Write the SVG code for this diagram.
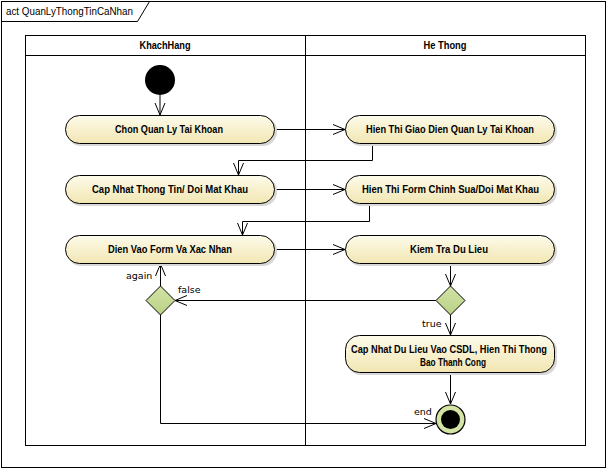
<svg xmlns="http://www.w3.org/2000/svg" width="610" height="470" viewBox="0 0 610 470">
<defs>
<linearGradient id="ng" x1="0" y1="0" x2="0" y2="1">
<stop offset="0" stop-color="#fdfbea"/>
<stop offset="1" stop-color="#f1e6b2"/>
</linearGradient>
<linearGradient id="dg" x1="0" y1="0" x2="0" y2="1">
<stop offset="0" stop-color="#d3e3a8"/>
<stop offset="1" stop-color="#b9d184"/>
</linearGradient>
<marker id="arr" viewBox="0 0 12 12" refX="12" refY="6" markerWidth="12" markerHeight="12" markerUnits="userSpaceOnUse" orient="auto">
<path d="M0,1 L12,6 L0,11" fill="none" stroke="#000" stroke-width="1"/>
</marker>
</defs>
<style>
.lane{fill:none;stroke:#000;stroke-width:1}
.node{fill:url(#ng);stroke:#000;stroke-width:1}
.shadow{fill:#d8d8d8;stroke:none}
.t{font-family:"Liberation Sans",Arial,sans-serif;font-size:10px;font-weight:bold;fill:#000;text-anchor:middle}
.lbl{font-family:"DejaVu Sans","Liberation Sans",sans-serif;font-size:9.5px;fill:#000}
.hdr{font-family:"Liberation Sans",Arial,sans-serif;font-size:10px;font-weight:bold;fill:#000;text-anchor:middle}
.c{fill:none;stroke:#000;stroke-width:1}
.dia{fill:url(#dg);stroke:#000;stroke-width:1}
</style>
<rect x="0" y="0" width="610" height="470" fill="#fff"/>
<g id="frame">
<rect x="1.5" y="1.5" width="604" height="466" fill="none" stroke="#000"/>
<path d="M1.5,21.5 H137.5 L149.5,1.5" fill="none" stroke="#000"/>
<text x="6" y="15" font-family="Liberation Sans,Arial,sans-serif" font-size="10.5px" fill="#000" textLength="127" lengthAdjust="spacingAndGlyphs">act QuanLyThongTinCaNhan</text>
</g>
<g id="lanes">
<rect class="lane" x="25.5" y="35.5" width="280" height="410"/>
<rect class="lane" x="305.5" y="35.5" width="280" height="410"/>
<line x1="25.5" y1="55.5" x2="585.5" y2="55.5" stroke="#000"/>
<text class="hdr" x="165" y="49" textLength="51" lengthAdjust="spacingAndGlyphs">KhachHang</text>
<text class="hdr" x="445" y="49" textLength="43" lengthAdjust="spacingAndGlyphs">He Thong</text>
</g>
<g id="connectors">
<line class="c" x1="160" y1="95" x2="160" y2="115" marker-end="url(#arr)"/>
<line class="c" x1="275" y1="129.5" x2="345" y2="129.5" marker-end="url(#arr)"/>
<path class="c" d="M372.5,144 V160.5 H238.5 V175" marker-end="url(#arr)"/>
<line class="c" x1="275" y1="189.5" x2="345" y2="189.5" marker-end="url(#arr)"/>
<path class="c" d="M369.5,204 V221.5 H242.5 V235" marker-end="url(#arr)"/>
<line class="c" x1="275" y1="249.5" x2="345" y2="249.5" marker-end="url(#arr)"/>
<line class="c" x1="450.5" y1="264" x2="450.5" y2="286" marker-end="url(#arr)"/>
<line class="c" x1="436" y1="300.5" x2="175" y2="300.5" marker-end="url(#arr)"/>
<line class="c" x1="160.5" y1="286" x2="160.5" y2="264" marker-end="url(#arr)"/>
<path class="c" d="M160.5,315 V423.5 H436" marker-end="url(#arr)"/>
<line class="c" x1="450.5" y1="315" x2="450.5" y2="335" marker-end="url(#arr)"/>
<line class="c" x1="450.5" y1="373" x2="450.5" y2="404" marker-end="url(#arr)"/>
<text class="lbl" x="178" y="293">false</text>
<text class="lbl" x="126" y="279">again</text>
<text class="lbl" x="422" y="327">true</text>
<text class="lbl" x="414" y="415">end</text>
</g>
<g id="start"><circle cx="160" cy="80" r="15" fill="#000"/></g>
<g id="n1">
<rect class="shadow" x="67" y="117" width="210" height="29" rx="14"/>
<rect class="node" x="65.5" y="115.5" width="209" height="28" rx="14"/>
<text class="t" x="169" y="133" textLength="108" lengthAdjust="spacingAndGlyphs">Chon Quan Ly Tai Khoan</text>
</g>
<g id="n2">
<rect class="shadow" x="347" y="117" width="210" height="29" rx="14"/>
<rect class="node" x="345.5" y="115.5" width="209" height="28" rx="14"/>
<text class="t" x="450" y="133" textLength="168" lengthAdjust="spacingAndGlyphs">Hien Thi Giao Dien Quan Ly Tai Khoan</text>
</g>
<g id="n3">
<rect class="shadow" x="67" y="177" width="210" height="29" rx="14"/>
<rect class="node" x="65.5" y="175.5" width="209" height="28" rx="14"/>
<text class="t" x="170" y="193" textLength="156" lengthAdjust="spacingAndGlyphs">Cap Nhat Thong Tin/ Doi Mat Khau</text>
</g>
<g id="n4">
<rect class="shadow" x="347" y="177" width="210" height="29" rx="14"/>
<rect class="node" x="345.5" y="175.5" width="209" height="28" rx="14"/>
<text class="t" x="450.5" y="193" textLength="177" lengthAdjust="spacingAndGlyphs">Hien Thi Form Chinh Sua/Doi Mat Khau</text>
</g>
<g id="n5">
<rect class="shadow" x="67" y="237" width="210" height="29" rx="14"/>
<rect class="node" x="65.5" y="235.5" width="209" height="28" rx="14"/>
<text class="t" x="170" y="253" textLength="124" lengthAdjust="spacingAndGlyphs">Dien Vao Form Va Xac Nhan</text>
</g>
<g id="n6">
<rect class="shadow" x="347" y="237" width="210" height="29" rx="14"/>
<rect class="node" x="345.5" y="235.5" width="209" height="28" rx="14"/>
<text class="t" x="449" y="253" textLength="78" lengthAdjust="spacingAndGlyphs">Kiem Tra Du Lieu</text>
</g>
<g id="d1"><path class="dia" d="M160.5,286 L175,300.5 L160.5,315 L146,300.5 Z"/></g>
<g id="d2"><path class="dia" d="M450.5,286 L465,300.5 L450.5,315 L436,300.5 Z"/></g>
<g id="n7">
<rect class="shadow" x="347" y="337" width="210" height="38" rx="14"/>
<rect class="node" x="345.5" y="335.5" width="209" height="37" rx="14"/>
<text class="t" x="449" y="353" textLength="196" lengthAdjust="spacingAndGlyphs">Cap Nhat Du Lieu Vao CSDL, Hien Thi Thong</text>
<text class="t" x="453" y="366" textLength="66" lengthAdjust="spacingAndGlyphs">Bao Thanh Cong</text>
</g>
<g id="end">
<circle cx="450.5" cy="419.5" r="14.5" fill="#d3e4a5" stroke="#000" stroke-width="1.2"/>
<circle cx="450.5" cy="419.5" r="9.5" fill="#000"/>
</g>
</svg>
